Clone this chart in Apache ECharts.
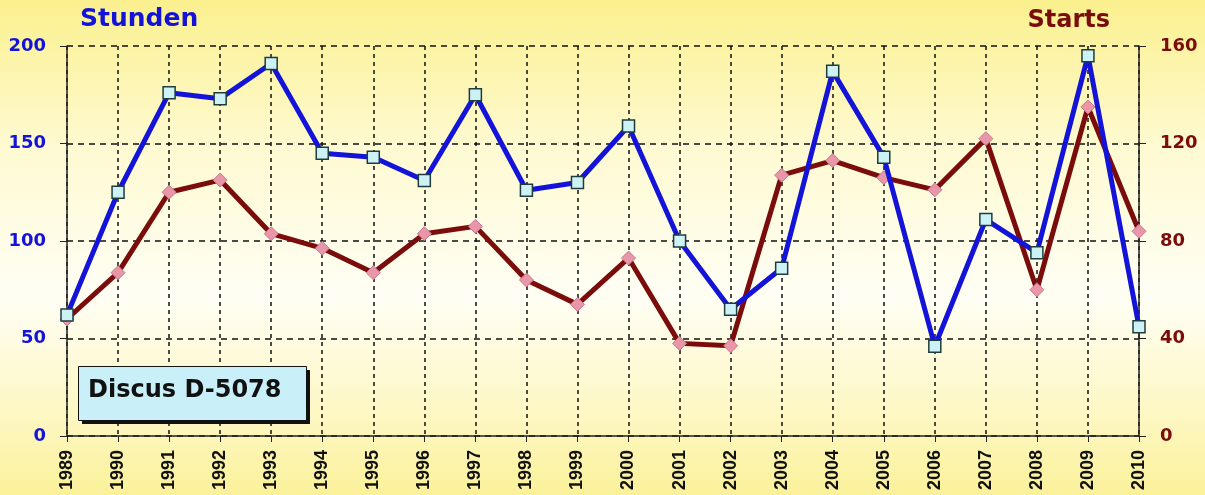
<!DOCTYPE html>
<html>
<head>
<meta charset="utf-8">
<script src="https://cdn.jsdelivr.net/npm/echarts@6/dist/echarts.min.js"></script>
<style>
  html, body { margin: 0; padding: 0; }
  #chart { width: 1205px; height: 495px; }
</style>
</head>
<body>
<div id="chart"></div>
<script>
// Flight hours and launches per year for the glider
const years = ['1989','1990','1991','1992','1993','1994','1995','1996','1997','1998','1999',
               '2000','2001','2002','2003','2004','2005','2006','2007','2008','2009','2010'];
const stunden = [62, 125, 176, 173, 191, 145, 143, 131, 175, 126, 130,
                 159, 100, 65, 86, 187, 143, 46, 111, 94, 195, 56];
const starts = [48, 67, 100, 105, 83, 77, 67, 83, 86, 64, 54,
                73, 38, 37, 107, 113, 106, 101, 122, 60, 135, 84];

const blue = '#1414d8';
const darkRed = '#7a0c0c';
const labelFont = '"DejaVu Sans", "Lato", sans-serif';

const chart = echarts.init(document.getElementById('chart'));
chart.setOption({
  animation: false,
  backgroundColor: {
    type: 'linear', x: 0, y: 0, x2: 0, y2: 1,
    colorStops: [
      { offset: 0, color: '#fbf08e' },
      { offset: 0.3, color: '#fefad2' },
      { offset: 0.6, color: '#fffef4' },
      { offset: 0.85, color: '#fdf7c0' },
      { offset: 1, color: '#fbf19a' }
    ]
  },
  grid: { left: 67, right: 66, top: 46, bottom: 59 },
  xAxis: {
    type: 'category',
    data: years,
    boundaryGap: false,
    axisLine: { lineStyle: { color: '#222', width: 1.5 } },
    axisTick: { show: true, length: 6, inside: false, lineStyle: { color: '#222' } },
    axisLabel: {
      rotate: 90, color: '#111', fontWeight: 'bold', fontSize: 18,
      fontFamily: '"Liberation Sans", Arial, sans-serif', margin: 14
    },
    splitLine: { show: true, lineStyle: { color: '#111', type: [4, 4], width: 1.5 } }
  },
  yAxis: [
    {
      type: 'value', min: 0, max: 200, interval: 50, position: 'left',
      axisLine: { show: true, lineStyle: { color: '#222', width: 1.5 } },
      axisTick: { show: true, length: 7, lineStyle: { color: '#222' } },
      axisLabel: { color: blue, fontWeight: 'bold', fontSize: 18, fontFamily: labelFont, margin: 21 },
      splitLine: { show: true, lineStyle: { color: '#111', type: [6, 5], width: 1.5 } }
    },
    {
      type: 'value', min: 0, max: 160, interval: 40, position: 'right',
      axisLine: { show: true, lineStyle: { color: '#222', width: 1.5 } },
      axisTick: { show: true, length: 7, lineStyle: { color: '#222' } },
      axisLabel: { color: darkRed, fontWeight: 'bold', fontSize: 18, fontFamily: labelFont, margin: 21 },
      splitLine: { show: false }
    }
  ],
  series: [
    {
      name: 'Starts', type: 'line', yAxisIndex: 1, data: starts,
      lineStyle: { color: darkRed, width: 5 },
      symbol: 'diamond', symbolSize: 14,
      itemStyle: { color: '#e896a8', borderColor: '#c87890', borderWidth: 1 },
      z: 3
    },
    {
      name: 'Stunden', type: 'line', yAxisIndex: 0, data: stunden,
      lineStyle: { color: blue, width: 5 },
      symbol: 'rect', symbolSize: 12,
      itemStyle: { color: '#cdf2f6', borderColor: '#1e3c3c', borderWidth: 1.5 },
      z: 4
    }
  ],
  graphic: [
    {
      type: 'text', left: 80, top: 7,
      style: { text: 'Stunden', fill: blue, font: 'bold 25px ' + labelFont }
    },
    {
      type: 'text', right: 95, top: 9,
      style: { text: 'Starts', fill: darkRed, font: 'bold 24px ' + labelFont }
    },
    {
      type: 'rect', left: 82, top: 370, z: 10,
      shape: { width: 228, height: 54 },
      style: { fill: '#111' }
    },
    {
      type: 'rect', left: 78, top: 366, z: 11,
      shape: { width: 228, height: 54 },
      style: { fill: '#c9f0f8', stroke: '#111', lineWidth: 1 }
    },
    {
      type: 'text', left: 88, top: 379, z: 12,
      style: { text: 'Discus D-5078', fill: '#111', font: 'bold 24px ' + labelFont }
    }
  ]
});
</script>
</body>
</html>
